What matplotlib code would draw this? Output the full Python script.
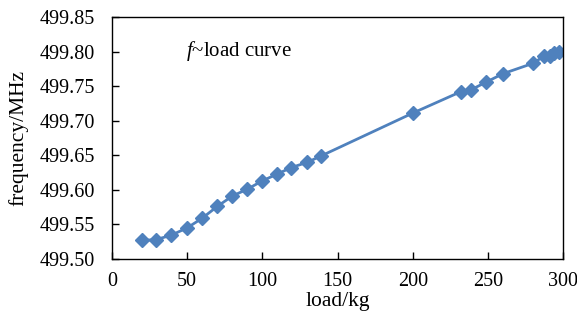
import matplotlib
matplotlib.use('Agg')
import matplotlib.pyplot as plt

# load (kg) vs frequency (MHz)
load = [20, 29, 39, 50, 60, 70, 80, 90, 100, 110, 119, 130, 139,
        200, 232, 239, 249, 260, 280, 287, 291, 294, 297]
freq = [499.527, 499.528, 499.534, 499.545, 499.559, 499.576, 499.591,
        499.601, 499.613, 499.623, 499.632, 499.640, 499.649,
        499.711, 499.742, 499.745, 499.756, 499.768, 499.783,
        499.793, 499.794, 499.798, 499.800]

x_ticks = [0, 50, 100, 150, 200, 250, 300]
y_ticks = [499.50, 499.55, 499.60, 499.65, 499.70, 499.75, 499.80, 499.85]

plt.rcParams['font.family'] = ['Liberation Serif', 'DejaVu Serif']
plt.rcParams['mathtext.fontset'] = 'custom'
plt.rcParams['mathtext.rm'] = 'Liberation Serif'
plt.rcParams['mathtext.it'] = 'Liberation Serif:italic'

fig = plt.figure(figsize=(5.77, 3.24), dpi=100)
ax = fig.add_axes([0.194, 0.2006, 0.782, 0.747])

ax.plot(load, freq, color='#4F81BD', linewidth=2.0, marker='D', markersize=6.8,
        markerfacecolor='#4F81BD', markeredgecolor='#4F81BD')

ax.set_xlim(0, 300)
ax.set_ylim(499.50, 499.85)
ax.set_xticks(x_ticks)
ax.set_yticks(y_ticks)
ax.set_yticklabels([f'{v:.2f}' for v in y_ticks])
ax.tick_params(direction='in', length=5, width=1, labelsize=14.5, colors='black')
ax.tick_params(axis='y', pad=12)
ax.tick_params(axis='x', pad=9)

for s in ax.spines.values():
    s.set_linewidth(1)
    s.set_color('black')

ax.set_xlabel('load/kg', fontsize=15.5, labelpad=1)
ax.set_ylabel('frequency/MHz', fontsize=15.5, labelpad=8)

ax.text(0.164, 0.86, r'$f$~load curve', transform=ax.transAxes,
        fontsize=15, ha='left', va='center')

fig.savefig('out.png', dpi=100)
